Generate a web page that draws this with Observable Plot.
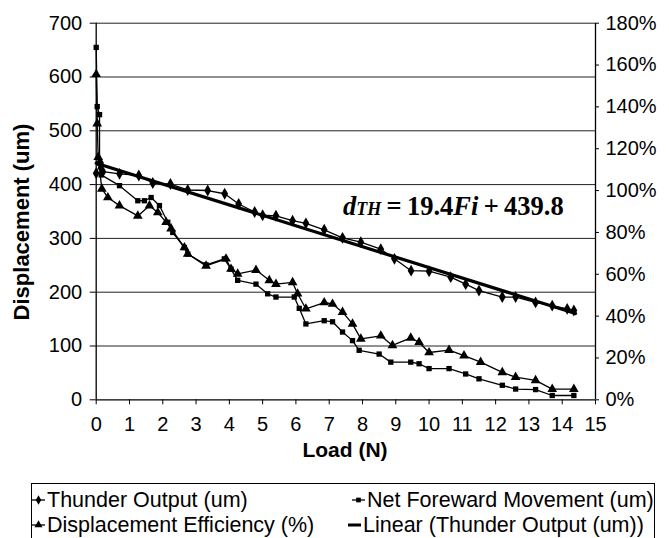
<!DOCTYPE html>
<html><head><meta charset="utf-8">
<script src="https://cdn.jsdelivr.net/npm/d3@7"></script>
<script src="https://cdn.jsdelivr.net/npm/@observablehq/plot@0.6"></script>
<style>
body{margin:0;background:#fff;font-family:"Liberation Sans",Arial,sans-serif}
#wrap{position:relative;width:669px;height:538px;overflow:hidden;background:#fff}
#chart{position:absolute;left:0;top:0}
#legend{position:absolute;left:31px;top:483px;width:624px;height:70px;border:1px solid #000;box-sizing:border-box}
.item{position:absolute;font-size:21.5px;line-height:22px;white-space:nowrap;display:flex;align-items:center;color:#000}
.item svg{margin-right:2px}
</style></head><body>
<div id="wrap"><div id="chart"></div><div id="legend"></div></div>
<script>
// Thunder Output (um)
const thunderLoad = [0, 0.13, 0.2, 0.7, 1.28, 1.7, 2.23, 2.75, 3.35, 3.86, 4.28, 4.76, 5.0, 5.4, 5.9, 6.3, 6.85, 7.4, 7.95, 8.55, 8.96, 9.46, 10.0, 10.65, 11.1, 11.5, 12.2, 12.6, 13.2, 13.7, 14.15, 14.35];
const thunderOut  = [421, 440, 424, 420, 417, 403, 401, 390, 389, 383, 364, 349, 343, 342, 333, 328, 316, 301, 293, 280, 262, 240, 239, 228, 215, 203, 191, 191, 181, 175, 169, 166];
// Net Foreward Movement (um)
const netLoad = [0, 0.03, 0.1, 0.1, 0.15, 0.7, 1.25, 1.45, 1.65, 1.9, 2.15, 2.3, 2.65, 2.75, 3.3, 3.85, 4.05, 4.25, 4.8, 5.15, 5.4, 5.95, 6.1, 6.3, 6.85, 7.1, 7.4, 7.7, 7.9, 8.5, 8.85, 9.45, 9.7, 10.0, 10.6, 11.1, 11.5, 12.2, 12.6, 13.2, 13.7, 14.35];
const netMove = [655, 545, 530, 440, 418, 398, 370, 370, 376, 361, 330, 311, 283, 271, 251, 262, 243, 222, 215, 197, 191, 191, 170, 141, 147, 145, 126, 110, 92, 85, 70, 70, 67, 58, 58, 48, 39, 27, 20, 19, 8, 8];
// Displacement Efficiency (%)
const effLoad = [0, 0.03, 0.06, 0.17, 0.35, 0.7, 1.25, 1.6, 1.85, 2.1, 2.25, 2.65, 2.75, 3.3, 3.9, 4.05, 4.25, 4.8, 5.2, 5.4, 5.9, 6.05, 6.3, 6.85, 7.1, 7.4, 7.7, 7.95, 8.55, 8.9, 9.45, 9.7, 10.0, 10.6, 11.05, 11.55, 12.2, 12.6, 13.2, 13.7, 14.35];
const effPct  = [155.6, 132, 116, 100.8, 96.7, 92.8, 87.9, 92.8, 89.5, 84.9, 81.8, 72.8, 69.7, 64.0, 67.4, 62.5, 60.2, 62.0, 57.1, 55.3, 56.1, 50.7, 43.5, 46.5, 45.8, 41.9, 36.3, 29.1, 30.6, 26.0, 29.6, 27.5, 22.6, 23.7, 21.1, 18.0, 13.1, 10.8, 9.3, 5.1, 5.1];
// Linear (Thunder Output (um)) endpoints
const trendLoad = [0, 14.4];
const trendOut  = [439.8, 160.4];
// Axis ticks
const leftTicks = [0, 100, 200, 300, 400, 500, 600, 700];
const pctTicks  = [0, 20, 40, 60, 80, 100, 120, 140, 160, 180];
const loadTicks = [0,1,2,3,4,5,6,7,8,9,10,11,12,13,14,15];
const yMax = 700, pctMax = 180;
const toLeft = p => p * yMax / pctMax;

const thunder = thunderLoad.map((x,i)=>({x, y: thunderOut[i]}));
const net = netLoad.map((x,i)=>({x, y: netMove[i]}));
const eff = effLoad.map((x,i)=>({x, y: toLeft(effPct[i])}));
const trend = trendLoad.map((x,i)=>({x, y: trendOut[i]}));

const plot = Plot.plot({
  width: 669, height: 470,
  marginLeft: 95.7, marginRight: 74, marginTop: 22.7, marginBottom: 70.7,
  x: {domain: [0, 15]},
  y: {domain: [0, yMax]},
  style: {fontFamily: '"Liberation Sans", Arial, sans-serif', fontSize: "20px", color: "#000", background: "#fff", overflow: "visible"},
  marks: [
    Plot.ruleY(leftTicks.slice(1), {stroke: "#222", strokeWidth: 1, strokeOpacity: 1}),
    Plot.axisY({ticks: leftTicks, tickSize: 6, tickPadding: 8, label: null, tickFormat: d => String(d), fontSize: 20}),
    Plot.axisY({anchor: "right", ticks: pctTicks.map(toLeft), tickSize: 3, tickPadding: 7, label: null, tickFormat: d => Math.round(d * pctMax / yMax) + "%", fontSize: 20}),
    Plot.axisX({ticks: loadTicks, tickSize: 5, tickPadding: 12, label: null, tickFormat: d => String(d), fontSize: 20}),
    Plot.ruleX([0, 15], {stroke: "#000", strokeWidth: 1.3}),
    Plot.ruleY([0], {stroke: "#000", strokeWidth: 1.3}),
    Plot.line(net, {x: "x", y: "y", stroke: "#000", strokeWidth: 1.3}),
    Plot.dot(net, {x: "x", y: "y", symbol: "square", r: 3, fill: "#000", stroke: "none"}),
    Plot.line(eff, {x: "x", y: "y", stroke: "#000", strokeWidth: 1.3}),
    Plot.dot(eff, {x: "x", y: "y", symbol: "triangle", r: 3.6, fill: "#000", stroke: "none"}),
    Plot.line(thunder, {x: "x", y: "y", stroke: "#000", strokeWidth: 1.3}),
    Plot.dot(thunder, {x: "x", y: "y", symbol: "diamond", r: 3.6, fill: "#000", stroke: "none"}),
    Plot.line(trend, {x: "x", y: "y", stroke: "#000", strokeWidth: 3.2})
  ]
});
document.getElementById("chart").appendChild(plot);

const sx = plot.scale("x"), sy = plot.scale("y");
const svg = d3.select(plot);
// equation
const eq = svg.append("text")
  .attr("x", sx.apply(7.43)).attr("y", sy.apply(342.5))
  .attr("text-anchor", "start")
  .attr("font-family", '"Liberation Serif", "Times New Roman", serif')
  .attr("font-weight", "bold").attr("font-size", 26.5).attr("fill", "#000");
eq.append("tspan").attr("font-style", "italic").text("d");
eq.append("tspan").attr("font-style", "italic").attr("font-size", 18).text("TH");
eq.append("tspan").text("\u2009=\u200919.4");
eq.append("tspan").attr("font-style", "italic").text("Fi");
eq.append("tspan").text("\u2009+\u2009439.8");
// axis titles
svg.append("text").attr("x", 345).attr("y", 457).attr("text-anchor", "middle")
  .attr("font-weight", "bold").attr("font-size", 21).attr("fill", "#000").text("Load (N)");
svg.append("text").attr("transform", "translate(29,222) rotate(-90)").attr("text-anchor", "middle")
  .attr("font-weight", "bold").attr("font-size", 22).attr("fill", "#000").text("Displacement (um)");

// legend
const legendItems = [
  {label: "Thunder Output (um)", sym: "diamond", left: 0, top: 5},
  {label: "Net Foreward Movement (um)", sym: "square", left: 320, top: 5},
  {label: "Displacement Efficiency (%)", sym: "triangle", left: 0, top: 30},
  {label: "Linear (Thunder Output (um))", sym: null, left: 316, top: 30}
];
const lg = document.getElementById("legend");
const symPaths = {diamond: d3.symbol(d3.symbolDiamond, 26)(), square: d3.symbol(d3.symbolSquare, 22)(), triangle: d3.symbol(d3.symbolTriangle, 28)()};
for (const it of legendItems) {
  const div = document.createElement("div");
  div.className = "item";
  div.style.left = it.left + "px"; div.style.top = it.top + "px";
  const sw = it.sym ? 1.3 : 3;
  const mark = it.sym ? `<path d="${symPaths[it.sym]}" transform="translate(6.5,11)" fill="#000"/>` : "";
  div.innerHTML = `<svg width="13" height="22"><line x1="0" x2="13" y1="11" y2="11" stroke="#000" stroke-width="${sw}"/>${mark}</svg><span>${it.label}</span>`;
  lg.appendChild(div);
}
</script>
</body></html>
